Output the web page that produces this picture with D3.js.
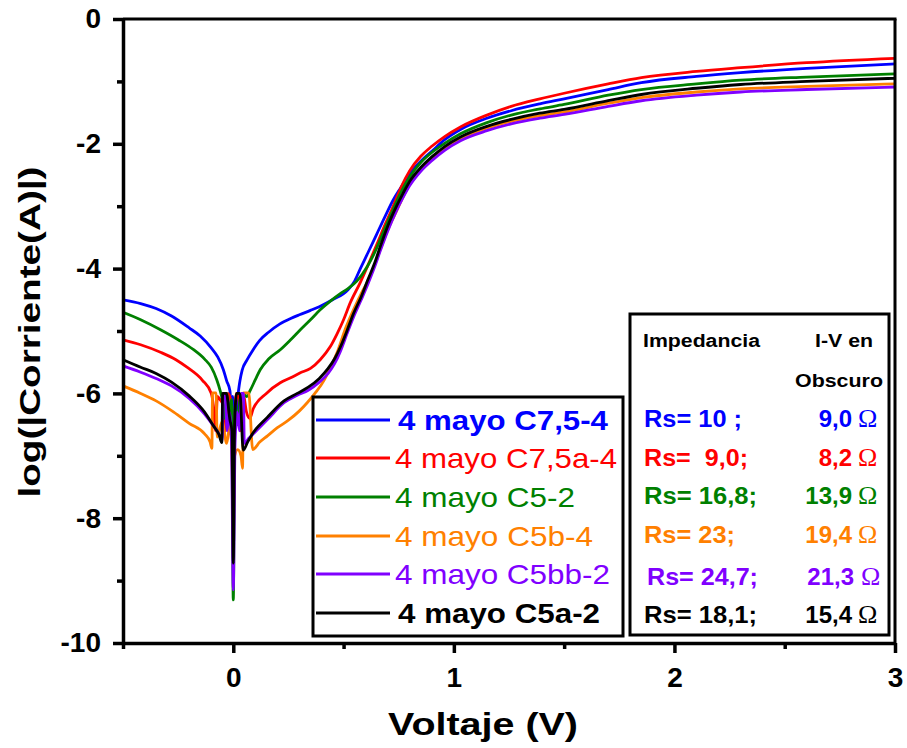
<!DOCTYPE html>
<html><head><meta charset="utf-8">
<script src="https://cdn.jsdelivr.net/npm/d3@7"></script>
<style>body{margin:0;background:#fff}svg{display:block}text{font-family:"Liberation Sans",Arial,sans-serif}</style>
</head><body><svg id="c" width="907" height="748"></svg>
<script>
// ---------- DATA ----------
const seriesNames = ["4 mayo C7,5-4","4 mayo C7,5a-4","4 mayo C5-2","4 mayo C5b-4","4 mayo C5bb-2","4 mayo C5a-2"];
const seriesColors = ["#0000FF","#FF0000","#008000","#FF8000","#8000FF","#000000"];
const seriesBold = [true,false,false,false,false,true];
const xTicks = [0,1,2,3];
const xMinor = [-0.5,0.5,1.5,2.5];
const yTicks = [0,-2,-4,-6,-8,-10];
const yMinor = [-1,-3,-5,-7,-9];
const rsImpedancia = ["Rs= 10 ;","Rs=  9,0;","Rs= 16,8;","Rs= 23;","Rs= 24,7;","Rs= 18,1;"];
const rsOscuro = ["9,0","8,2","13,9","19,4","21,3","15,4"];

const C75_4 = [[-0.5,-4.50],[-0.42,-4.56],[-0.35,-4.64],[-0.28,-4.76],[-0.2,-4.95],[-0.15,-5.08],[-0.1,-5.27],[-0.07,-5.42],[-0.045,-5.62],[-0.03,-5.80],[-0.015,-5.96],[-0.008,-6.3],[-0.003,-6.05],[0,-7.0],[0.004,-6.2],[0.012,-6.3],[0.022,-6.0],[0.03,-5.8],[0.04,-5.63],[0.063,-5.46],[0.09,-5.30],[0.12,-5.15],[0.16,-5.02],[0.21,-4.89],[0.26,-4.80],[0.30,-4.74],[0.35,-4.67],[0.39,-4.61],[0.45,-4.50],[0.52,-4.34],[0.55,-4.20],[0.576,-4.0],[0.61,-3.75],[0.65,-3.45],[0.69,-3.15],[0.725,-2.90],[0.76,-2.70],[0.80,-2.48],[0.85,-2.28],[0.90,-2.12],[0.96,-1.93],[1.03,-1.77],[1.15,-1.59],[1.26,-1.47],[1.39,-1.36],[1.5,-1.28],[1.7,-1.13],[1.85,-1.02],[2.1,-0.92],[2.3,-0.86],[2.6,-0.79],[3.0,-0.72]];
const C75a_4 = [[-0.5,-5.14],[-0.42,-5.22],[-0.33,-5.34],[-0.26,-5.46],[-0.21,-5.58],[-0.14,-5.79],[-0.10,-6.0],[-0.09,-6.2],[-0.08,-6.6],[-0.072,-6.05],[-0.06,-6.1],[-0.045,-6.2],[-0.035,-6.6],[-0.025,-6.0],[-0.012,-6.1],[-0.006,-6.5],[0,-7.6],[0.006,-6.5],[0.014,-6.0],[0.025,-6.1],[0.035,-6.6],[0.045,-6.0],[0.06,-6.3],[0.075,-6.4],[0.09,-6.25],[0.15,-6.0],[0.213,-5.83],[0.26,-5.75],[0.304,-5.67],[0.35,-5.60],[0.394,-5.46],[0.44,-5.25],[0.47,-5.05],[0.50,-4.82],[0.53,-4.55],[0.576,-4.22],[0.61,-3.95],[0.65,-3.62],[0.69,-3.28],[0.725,-3.0],[0.76,-2.70],[0.80,-2.43],[0.85,-2.20],[0.90,-2.04],[0.96,-1.88],[1.03,-1.73],[1.15,-1.54],[1.26,-1.40],[1.39,-1.28],[1.5,-1.19],[1.7,-1.04],[1.85,-0.94],[2.1,-0.84],[2.3,-0.78],[2.6,-0.70],[3.0,-0.63]];
const C5_2 = [[-0.5,-4.70],[-0.42,-4.82],[-0.33,-4.98],[-0.25,-5.14],[-0.18,-5.30],[-0.13,-5.45],[-0.10,-5.58],[-0.075,-5.78],[-0.06,-5.95],[-0.05,-6.1],[-0.04,-6.4],[-0.03,-6.0],[-0.018,-6.3],[-0.008,-6.1],[0,-9.31],[0.008,-6.2],[0.02,-6.5],[0.03,-6.1],[0.045,-6.0],[0.06,-6.05],[0.077,-5.95],[0.10,-5.78],[0.122,-5.62],[0.16,-5.45],[0.213,-5.30],[0.26,-5.14],[0.304,-4.98],[0.35,-4.82],[0.394,-4.66],[0.44,-4.52],[0.485,-4.40],[0.52,-4.32],[0.56,-4.20],[0.607,-3.97],[0.64,-3.75],[0.666,-3.54],[0.70,-3.25],[0.725,-3.05],[0.76,-2.78],[0.80,-2.53],[0.85,-2.30],[0.90,-2.14],[0.96,-1.99],[1.03,-1.84],[1.15,-1.66],[1.26,-1.54],[1.39,-1.44],[1.5,-1.37],[1.7,-1.22],[1.85,-1.13],[2.1,-1.04],[2.3,-0.98],[2.6,-0.93],[3.0,-0.88]];
const C5b_4 = [[-0.5,-5.88],[-0.42,-6.0],[-0.35,-6.12],[-0.27,-6.30],[-0.2,-6.48],[-0.13,-6.65],[-0.105,-6.78],[-0.097,-6.88],[-0.094,-5.99],[-0.078,-5.99],[-0.073,-6.7],[-0.05,-6.45],[-0.03,-6.8],[-0.015,-6.5],[-0.006,-7.0],[0,-8.08],[0.006,-7.0],[0.02,-6.9],[0.035,-7.0],[0.042,-7.2],[0.046,-5.99],[0.07,-5.99],[0.088,-6.90],[0.12,-6.78],[0.155,-6.68],[0.2,-6.55],[0.25,-6.43],[0.30,-6.28],[0.335,-6.15],[0.37,-6.0],[0.41,-5.80],[0.43,-5.66],[0.47,-5.35],[0.51,-4.95],[0.55,-4.62],[0.58,-4.40],[0.61,-4.20],[0.64,-3.95],[0.666,-3.70],[0.70,-3.38],[0.74,-3.08],[0.77,-2.85],[0.80,-2.65],[0.85,-2.42],[0.90,-2.24],[0.96,-2.07],[1.03,-1.92],[1.15,-1.75],[1.26,-1.64],[1.39,-1.55],[1.5,-1.49],[1.7,-1.35],[1.85,-1.26],[2.1,-1.17],[2.3,-1.12],[2.6,-1.08],[3.0,-1.04]];
const C5bb_2 = [[-0.5,-5.56],[-0.42,-5.66],[-0.35,-5.76],[-0.28,-5.88],[-0.2,-6.08],[-0.13,-6.33],[-0.09,-6.52],[-0.06,-6.68],[-0.05,-6.75],[-0.046,-6.0],[-0.036,-6.0],[-0.028,-6.6],[-0.018,-6.3],[-0.008,-6.8],[0,-9.15],[0.008,-6.8],[0.018,-6.3],[0.028,-6.6],[0.036,-6.0],[0.046,-6.0],[0.05,-6.8],[0.07,-6.72],[0.09,-6.65],[0.155,-6.42],[0.23,-6.15],[0.29,-6.03],[0.34,-5.95],[0.39,-5.82],[0.43,-5.68],[0.46,-5.52],[0.485,-5.33],[0.515,-5.05],[0.545,-4.78],[0.58,-4.50],[0.61,-4.25],[0.64,-3.98],[0.666,-3.72],[0.70,-3.40],[0.74,-3.07],[0.77,-2.86],[0.80,-2.67],[0.85,-2.44],[0.90,-2.27],[0.96,-2.10],[1.03,-1.95],[1.15,-1.79],[1.26,-1.68],[1.39,-1.59],[1.5,-1.53],[1.7,-1.40],[1.85,-1.31],[2.1,-1.22],[2.3,-1.17],[2.6,-1.13],[3.0,-1.09]];
const C5a_2 = [[-0.5,-5.46],[-0.42,-5.58],[-0.35,-5.68],[-0.28,-5.82],[-0.2,-6.04],[-0.13,-6.30],[-0.09,-6.52],[-0.065,-6.66],[-0.052,-6.79],[-0.048,-6.0],[-0.032,-6.0],[-0.015,-6.43],[-0.006,-6.6],[0,-8.72],[0.006,-6.5],[0.015,-6.0],[0.03,-6.0],[0.045,-6.91],[0.065,-6.78],[0.09,-6.63],[0.155,-6.38],[0.23,-6.12],[0.29,-6.0],[0.34,-5.90],[0.39,-5.76],[0.43,-5.60],[0.46,-5.44],[0.485,-5.26],[0.515,-5.0],[0.545,-4.72],[0.58,-4.45],[0.61,-4.18],[0.64,-3.92],[0.666,-3.65],[0.70,-3.32],[0.74,-3.0],[0.77,-2.79],[0.80,-2.60],[0.85,-2.38],[0.90,-2.21],[0.96,-2.04],[1.03,-1.89],[1.15,-1.72],[1.26,-1.61],[1.39,-1.51],[1.5,-1.45],[1.7,-1.31],[1.85,-1.21],[2.1,-1.11],[2.3,-1.05],[2.6,-1.00],[3.0,-0.95]];
const seriesData = [C75_4, C75a_4, C5_2, C5b_4, C5bb_2, C5a_2];

// ---------- LAYOUT ----------
const svg = d3.select("#c");
const L = 123, R = 895, T = 19, B = 643;
const x = d3.scaleLinear().domain([-0.5,3]).range([L,R]);
const y = d3.scaleLinear().domain([-10,0]).range([B,T]);

svg.append("clipPath").attr("id","clip").append("rect").attr("x",L).attr("y",T).attr("width",R-L).attr("height",B-T);

const line = d3.line().x(d=>x(d[0])).y(d=>y(d[1])).curve(d3.curveMonotoneX);
const plot = svg.append("g").attr("clip-path","url(#clip)");
seriesData.forEach((s,i)=>{
  plot.append("path").attr("d",line(s)).attr("fill","none")
    .attr("stroke",seriesColors[i]).attr("stroke-width",2.8).attr("stroke-linejoin","round");
});

// frame top & right
svg.append("line").attr("x1",L).attr("x2",R+1.5).attr("y1",T).attr("y2",T).attr("stroke","#000").attr("stroke-width",3);
svg.append("line").attr("x1",R).attr("x2",R).attr("y1",T).attr("y2",B).attr("stroke","#000").attr("stroke-width",3);

// axes
const fontTick = "bold 28px 'Liberation Sans', Arial, sans-serif";
function styleAxis(g){
  g.select(".domain").attr("stroke","#000").attr("stroke-width",3.5);
  g.selectAll(".tick line").attr("stroke","#000").attr("stroke-width",3.5);
  g.selectAll(".tick text").style("font",fontTick).attr("fill","#000");
}
const gx = svg.append("g").attr("transform",`translate(0,${B})`)
  .call(d3.axisBottom(x).tickValues(xTicks).tickSize(10).tickSizeOuter(0).tickPadding(14).tickFormat(d3.format("d")));
styleAxis(gx);
const gxm = svg.append("g").attr("transform",`translate(0,${B})`)
  .call(d3.axisBottom(x).tickValues(xMinor).tickSize(6).tickSizeOuter(0).tickFormat(""));
styleAxis(gxm); gxm.select(".domain").remove();

const gy = svg.append("g").attr("transform",`translate(${L},0)`)
  .call(d3.axisLeft(y).tickValues(yTicks).tickSize(10).tickSizeOuter(0).tickPadding(12).tickFormat(d3.format("d")));
styleAxis(gy);
gy.selectAll(".tick text").text(d=>d===0?"0":String(d));
const gym = svg.append("g").attr("transform",`translate(${L},0)`)
  .call(d3.axisLeft(y).tickValues(yMinor).tickSize(6).tickSizeOuter(0).tickFormat(""));
styleAxis(gym); gym.select(".domain").remove();

// axis titles
svg.append("text").attr("x",483).attr("y",735).attr("text-anchor","middle")
  .style("font","bold 31px 'Liberation Sans', Arial, sans-serif").attr("textLength",190).attr("lengthAdjust","spacingAndGlyphs")
  .text("Voltaje (V)");
svg.append("text").attr("transform","translate(40,332) rotate(-90)").attr("text-anchor","middle")
  .style("font","bold 30px 'Liberation Sans', Arial, sans-serif").attr("textLength",331).attr("lengthAdjust","spacingAndGlyphs")
  .text("log(|Corriente(A)|)");

// legend box
svg.append("rect").attr("x",313).attr("y",397).attr("width",310).attr("height",239)
  .attr("fill","#fff").attr("stroke","#000").attr("stroke-width",3);
const legY = [420,458,497,536,574,613];
const legW = [210,222,180,198,215,202];
seriesNames.forEach((n,i)=>{
  svg.append("line").attr("x1",316).attr("x2",390).attr("y1",legY[i]).attr("y2",legY[i])
    .attr("stroke",seriesColors[i]).attr("stroke-width",2.8);
  svg.append("text").attr("x",seriesBold[i]?398:395).attr("y",legY[i]+10)
    .style("font",(seriesBold[i]?"bold ":"")+"28px 'Liberation Sans', Arial, sans-serif")
    .attr("fill",seriesColors[i]).attr("textLength",legW[i]).attr("lengthAdjust","spacingAndGlyphs").text(n);
});

// table box
svg.append("rect").attr("x",630).attr("y",314).attr("width",259).attr("height",321)
  .attr("fill","#fff").attr("stroke","#000").attr("stroke-width",3);
const hdr = "bold 18px 'Liberation Sans', Arial, sans-serif";
svg.append("text").attr("x",643).attr("y",347).style("font",hdr).attr("textLength",117).attr("lengthAdjust","spacingAndGlyphs").text("Impedancia");
svg.append("text").attr("x",815).attr("y",347).style("font",hdr).attr("textLength",58).attr("lengthAdjust","spacingAndGlyphs").text("I-V en");
svg.append("text").attr("x",795).attr("y",387).style("font",hdr).attr("textLength",88).attr("lengthAdjust","spacingAndGlyphs").text("Obscuro");
const rowY = [427,466,504,543,585,623];
const rsW = [98,104,113,91,111,113];
rsImpedancia.forEach((t,i)=>{
  svg.append("text").attr("x",i===4?647:644).attr("y",rowY[i]).style("font","bold 24px 'Liberation Sans', Arial, sans-serif")
    .style("white-space","pre").attr("fill",seriesColors[i]).attr("textLength",rsW[i]).attr("lengthAdjust","spacingAndGlyphs").text(t);
  svg.append("text").attr("x",i===4?854:852).attr("y",rowY[i]).attr("text-anchor","end")
    .style("font","bold 24px 'Liberation Sans', Arial, sans-serif").attr("fill",seriesColors[i]).text(rsOscuro[i]);
  svg.append("text").attr("x",i===4?861:858).attr("y",rowY[i]).style("font","26px 'Liberation Serif', 'Times New Roman', serif")
    .attr("fill",seriesColors[i]).text("\u03A9");
});
</script></body></html>
